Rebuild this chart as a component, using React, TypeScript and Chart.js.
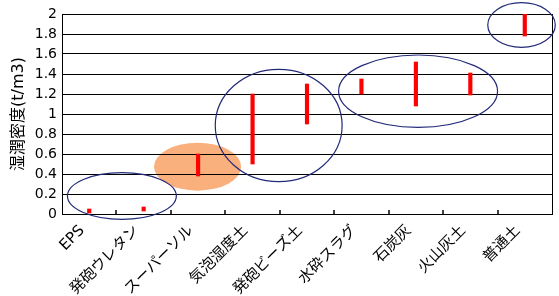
import React, { useEffect, useRef } from "react";
import { Chart, registerables } from "chart.js";

Chart.register(...registerables);

// Categories (x axis)
const categories = [
  "EPS",
  "発砲ウレタン",
  "スーパーソル",
  "気泡湿度土",
  "発砲ビーズ土",
  "水砕スラグ",
  "石炭灰",
  "火山灰土",
  "普通土",
];

// Range of wet density (t/m3) per material
const lowValues = [0.01, 0.03, 0.38, 0.5, 0.9, 1.2, 1.08, 1.19, 1.78];
const highValues = [0.05, 0.07, 0.6, 1.2, 1.3, 1.35, 1.52, 1.41, 2.0];

// Y axis
const yMin = 0;
const yMax = 2;
const yStep = 0.2;
const yTitle = "湿潤密度(t/m3)";

// Grouping ellipses (in data units: category index, y value)
const ellipseCx = [0.6, 1.99, 3.48, 6.04, 7.94];
const ellipseCy = [0.18, 0.473, 0.885, 1.228, 1.89];
const ellipseRx = [1.0, 0.8, 1.165, 1.46, 0.62];
const ellipseRy = [0.233, 0.24, 0.562, 0.362, 0.223];
const ellipseFilled = [false, true, false, false, false];

const FONT = "'DejaVu Sans', 'Noto Sans CJK JP', sans-serif";

function ellipsePath(chart: any, i: number) {
  const x = chart.scales.x;
  const y = chart.scales.y;
  const cx = x.getPixelForValue(ellipseCx[i]);
  const cy = y.getPixelForValue(ellipseCy[i]);
  const unitX = x.getPixelForValue(1) - x.getPixelForValue(0);
  const unitY = y.getPixelForValue(0) - y.getPixelForValue(1);
  const ctx = chart.ctx;
  ctx.beginPath();
  ctx.ellipse(cx, cy, ellipseRx[i] * unitX, ellipseRy[i] * unitY, 0, 0, Math.PI * 2);
}

const decorPlugin = {
  id: "decor",
  beforeDraw(chart: any) {
    const ctx = chart.ctx;
    ctx.save();
    for (let i = 0; i < ellipseCx.length; i++) {
      if (!ellipseFilled[i]) continue;
      ellipsePath(chart, i);
      ctx.fillStyle = "rgb(250,176,125)";
      ctx.fill();
    }
    ctx.restore();
  },
  afterDraw(chart: any) {
    const ctx = chart.ctx;
    const area = chart.chartArea;
    const x = chart.scales.x;
    ctx.save();
    // right border
    ctx.strokeStyle = "#000";
    ctx.lineWidth = 1;
    ctx.beginPath();
    ctx.moveTo(Math.round(area.right) + 0.5, area.top);
    ctx.lineTo(Math.round(area.right) + 0.5, area.bottom);
    ctx.stroke();
    // inward tick marks between categories
    ctx.lineWidth = 1.5;
    for (let i = 1; i < categories.length; i++) {
      const px = Math.round((x.getPixelForValue(i - 1) + x.getPixelForValue(i)) / 2);
      ctx.beginPath();
      ctx.moveTo(px, area.bottom - 4);
      ctx.lineTo(px, area.bottom);
      ctx.stroke();
    }
    // outline ellipses
    for (let i = 0; i < ellipseCx.length; i++) {
      if (ellipseFilled[i]) continue;
      ellipsePath(chart, i);
      ctx.strokeStyle = "#232a78";
      ctx.lineWidth = 1.2;
      ctx.stroke();
    }
    ctx.restore();
  },
};

export default function App() {
  const ref = useRef<HTMLCanvasElement | null>(null);

  useEffect(() => {
    document.body.style.margin = "0";
    const canvas = ref.current;
    if (!canvas) return;
    const chart = new Chart(canvas, {
      type: "bar",
      data: {
        labels: categories,
        datasets: [
          {
            data: lowValues.map((lo, i) => [lo, highValues[i]]) as any,
            backgroundColor: "#ff0000",
            borderWidth: 0,
            barThickness: 3.5,
          },
        ],
      },
      options: {
        responsive: false,
        animation: false,
        layout: { padding: { top: 14, right: 7, left: 0, bottom: 0 } },
        plugins: {
          legend: { display: false },
          tooltip: { enabled: false },
        },
        scales: {
          x: {
            offset: true,
            grid: { display: false },
            border: { display: true, color: "#000", width: 1 },
            ticks: {
              autoSkip: false,
              maxRotation: 45,
              minRotation: 45,
              color: "#000",
              padding: 0,
              labelOffset: -7,
              font: { family: FONT, size: 15 },
            },
            afterFit: (s: any) => {
              s.height = 82;
            },
          },
          y: {
            min: yMin,
            max: yMax,
            grid: { color: "#000", lineWidth: 1, drawTicks: false },
            border: { display: true, color: "#000", width: 1 },
            ticks: {
              stepSize: yStep,
              color: "#000",
              padding: 5,
              font: { family: FONT, size: 14 },
              callback: (v: any) => String(parseFloat(Number(v).toFixed(1))),
            },
            title: {
              display: true,
              text: yTitle,
              color: "#000",
              padding: { top: 9, bottom: 0 },
              font: { family: FONT, size: 16 },
            },
            afterFit: (s: any) => {
              s.width = 62;
            },
          },
        },
      },
      plugins: [decorPlugin],
    });
    return () => chart.destroy();
  }, []);

  return (
    <div style={{ width: 559, height: 296 }}>
      <canvas ref={ref} width={559} height={296} />
    </div>
  );
}
